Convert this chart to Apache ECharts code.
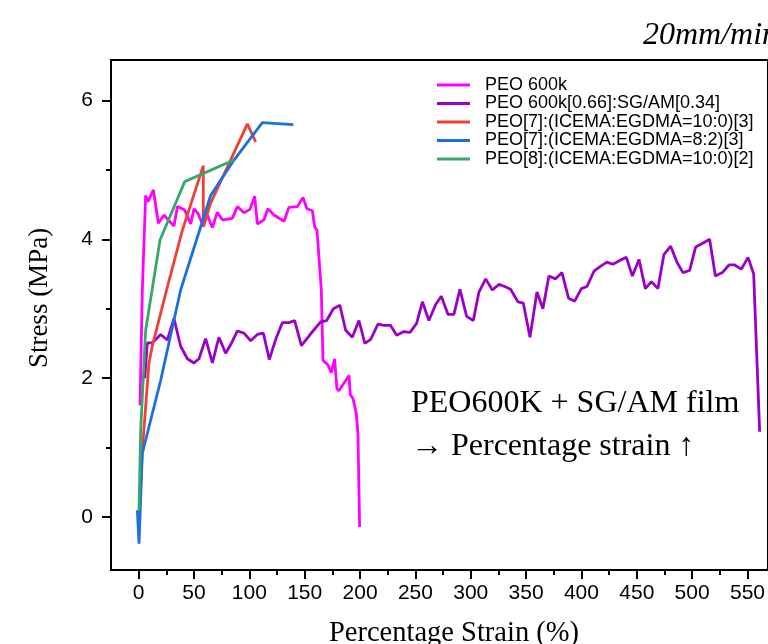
<!DOCTYPE html>
<html>
<head>
<meta charset="utf-8">
<script src="https://cdn.jsdelivr.net/npm/echarts@6.0.0/dist/echarts.min.js"></script>
<style>
  html, body { margin: 0; padding: 0; background: #fff; }
  #chart { width: 768px; height: 644px; }
</style>
</head>
<body>
<div id="chart"></div>
<script>
// strain (%) , stress (MPa)
const peo600k = [
  [1.2, 1.61], [3.3, 3.27], [6.3, 4.63], [8.4, 4.54], [13.3, 4.71], [17.8, 4.23],
  [22.9, 4.35], [26.5, 4.28], [31.9, 4.19], [35, 4.47], [41.6, 4.42], [47, 4.22],
  [50, 4.44], [53.6, 4.37], [58.4, 4.19], [62, 4.35], [66.6, 4.17], [71.1, 4.39],
  [75.6, 4.28], [84.6, 4.3], [89.2, 4.47], [95.1, 4.38], [100.5, 4.43], [104.8, 4.62],
  [107.2, 4.22], [113.2, 4.28], [116.8, 4.44], [122.2, 4.35], [131.3, 4.26], [135.8, 4.46],
  [143.4, 4.47], [148.4, 4.6], [152, 4.44], [156.9, 4.41], [159, 4.18], [161.1, 4.13],
  [165, 3.27], [166.5, 2.26], [171, 2.19], [174, 2.08], [175.5, 2.08], [177, 2.28],
  [179.1, 1.85], [180.9, 1.82], [190, 2.04], [191.2, 1.76], [193.6, 1.71], [196.6, 1.49],
  [198.1, 1.2], [199.6, -0.14]
];

const peoSgAm = [
  [5.5, 2.0], [7.8, 2.51], [12.4, 2.51], [19.9, 2.63], [25.9, 2.55], [31.9, 2.86],
  [37.9, 2.46], [44, 2.28], [50, 2.22], [54.5, 2.28], [60.5, 2.57], [66.6, 2.22],
  [72.5, 2.59], [78.6, 2.36], [83.7, 2.5], [89.2, 2.68], [95.1, 2.65], [101.2, 2.54],
  [107.2, 2.63], [112.6, 2.65], [118, 2.27], [123.8, 2.56], [129.8, 2.8], [135.8, 2.8],
  [140.9, 2.83], [147, 2.47], [155.4, 2.64], [164.4, 2.81], [169.8, 2.83], [175.9, 3.0],
  [181.8, 3.05], [187, 2.69], [193, 2.59], [199, 2.83], [204.4, 2.5], [209.6, 2.56],
  [216.2, 2.78], [221.6, 2.76], [227.6, 2.76], [233.1, 2.62], [239.1, 2.67], [245.1, 2.66],
  [251.1, 2.79], [256.3, 3.1], [262.2, 2.83], [268.3, 3.06], [273.4, 3.18], [279.4, 2.92],
  [284.8, 2.92], [290.2, 3.28], [296.3, 2.89], [302.3, 2.83], [307.4, 3.24], [313.5, 3.43],
  [319.5, 3.27], [325.5, 3.35], [330.6, 3.32], [336, 3.28], [342.6, 3.1], [347.5, 3.08],
  [353.5, 2.59], [359.8, 3.24], [365.2, 3.0], [370.6, 3.47], [376.7, 3.43], [382.4, 3.52],
  [388.4, 3.15], [393.9, 3.11], [399.9, 3.29], [405, 3.32], [411.3, 3.54], [417.1, 3.61],
  [423, 3.67], [428.5, 3.64], [435.1, 3.7], [440.6, 3.74], [446, 3.47], [452, 3.71],
  [457.7, 3.29], [463.2, 3.39], [469.1, 3.29], [474.5, 3.78], [480.6, 3.9], [486.3, 3.67],
  [491.7, 3.52], [497.7, 3.55], [503.2, 3.89], [509.2, 3.94], [515.8, 4.0], [521, 3.47],
  [527.3, 3.52], [533.3, 3.63], [538.4, 3.63], [544.5, 3.57], [550.5, 3.74], [555.6, 3.5],
  [561, 1.23]
];

const peo7Icema100 = [
  [0.5, 0.1], [3.3, 0.96], [9.3, 2.22], [12.4, 2.47], [25.9, 3.31], [39.5, 4.13],
  [58.4, 5.06], [58.4, 4.18], [65, 4.52], [98.2, 5.66], [105.7, 5.4]
];

const peo7Icema82 = [
  [-1.2, 0.1], [0.3, -0.38], [3.3, 0.92], [19.9, 1.97], [37.9, 3.27], [65, 4.63],
  [86.1, 5.14], [111.7, 5.68], [139.7, 5.65]
];

const peo8Icema100 = [
  [0.3, 0.1], [1.8, 1.25], [6.3, 2.69], [19.3, 3.99], [41.6, 4.83], [86.1, 5.14]
];

const seriesNames = [
  "PEO 600k",
  "PEO 600k[0.66]:SG/AM[0.34]",
  "PEO[7]:(ICEMA:EGDMA=10:0)[3]",
  "PEO[7]:(ICEMA:EGDMA=8:2)[3]",
  "PEO[8]:(ICEMA:EGDMA=10:0)[2]"
];
const seriesColors = ["#ff00ff", "#9b00c9", "#ef4038", "#1b6fdf", "#37a86b"];
const seriesData = [peo600k, peoSgAm, peo7Icema100, peo7Icema82, peo8Icema100];

const xMajor = [0, 50, 100, 150, 200, 250, 300, 350, 400, 450, 500, 550];
const xMinor = [25, 75, 125, 175, 225, 275, 325, 375, 425, 475, 525];
const yMajor = [0, 2, 4, 6];
const yMinor = [1, 3, 5];

const chart = echarts.init(document.getElementById("chart"), null, { renderer: "canvas" });

const sans = "'Liberation Sans', Arial, sans-serif";
const serif = "'Liberation Serif', 'Times New Roman', serif";
// the frame runs past the right edge of the picture
const axisRange = { x: [-25, 568.5], y: [-0.76, 6.58] };

const xAxisBase = {
  type: "value",
  gridIndex: 0,
  position: "bottom",
  min: axisRange.x[0],
  max: axisRange.x[1],
  splitLine: { show: false }
};
const yAxisBase = {
  type: "value",
  gridIndex: 0,
  position: "left",
  min: axisRange.y[0],
  max: axisRange.y[1],
  splitLine: { show: false }
};

const option = {
  animation: false,
  backgroundColor: "#fff",
  grid: {
    left: 111,
    top: 60,
    right: 0,
    bottom: 74,
    show: true,
    borderColor: "#000",
    borderWidth: 2
  },
  xAxis: [
    {
      ...xAxisBase,
      axisLine: { show: true, onZero: false, lineStyle: { color: "#000", width: 2 } },
      axisTick: { show: true, customValues: xMajor, length: 9, lineStyle: { color: "#000", width: 2 } },
      axisLabel: { customValues: xMajor, margin: 13, color: "#000", fontSize: 21, fontFamily: sans }
    },
    {
      ...xAxisBase,
      axisLine: { show: false, onZero: false },
      axisTick: { show: true, customValues: xMinor, length: 5, lineStyle: { color: "#000", width: 2 } },
      axisLabel: { show: false }
    }
  ],
  yAxis: [
    {
      ...yAxisBase,
      axisLine: { show: true, onZero: false, lineStyle: { color: "#000", width: 2 } },
      axisTick: { show: true, customValues: yMajor, length: 9, lineStyle: { color: "#000", width: 2 } },
      axisLabel: { customValues: yMajor, margin: 18, color: "#000", fontSize: 21, fontFamily: sans }
    },
    {
      ...yAxisBase,
      axisLine: { show: false, onZero: false },
      axisTick: { show: true, customValues: yMinor, length: 5, lineStyle: { color: "#000", width: 2 } },
      axisLabel: { show: false }
    }
  ],
  legend: {
    orient: "vertical",
    left: 437,
    top: 76,
    icon: "rect",
    itemWidth: 33,
    itemHeight: 3,
    itemGap: 0.5,
    padding: 0,
    data: seriesNames,
    textStyle: {
      color: "#000",
      fontSize: 18,
      lineHeight: 18,
      fontFamily: sans,
      padding: [0, 0, 0, 10]
    }
  },
  graphic: [
    {
      type: "text",
      left: 643,
      top: 20,
      style: { text: "20mm/min", font: "italic 32px " + serif, fill: "#000" }
    },
    {
      type: "text",
      x: 40,
      y: 298,
      rotation: Math.PI / 2,
      style: {
        text: "Stress (MPa)",
        font: "27px " + serif,
        fill: "#000",
        textAlign: "center",
        textVerticalAlign: "middle"
      }
    },
    {
      type: "text",
      x: 454,
      y: 634,
      style: {
        text: "Percentage Strain (%)",
        font: "28.5px " + serif,
        fill: "#000",
        textAlign: "center",
        textVerticalAlign: "middle"
      }
    },
    {
      type: "text",
      x: 411,
      y: 404,
      style: {
        text: "PEO600K + SG/AM film",
        font: "32px " + serif,
        fill: "#000",
        textAlign: "left",
        textVerticalAlign: "middle"
      }
    },
    {
      type: "text",
      x: 411,
      y: 447,
      style: {
        text: "\u2192 Percentage strain \u2191",
        font: "32px " + serif,
        fill: "#000",
        textAlign: "left",
        textVerticalAlign: "middle"
      }
    }
  ],
  series: seriesNames.map((name, i) => ({
    name: name,
    type: "line",
    xAxisIndex: 0,
    yAxisIndex: 0,
    data: seriesData[i],
    symbol: "none",
    smooth: false,
    color: seriesColors[i],
    lineStyle: { color: seriesColors[i], width: 2.8 }
  }))
};

chart.setOption(option);
</script>
</body>
</html>
